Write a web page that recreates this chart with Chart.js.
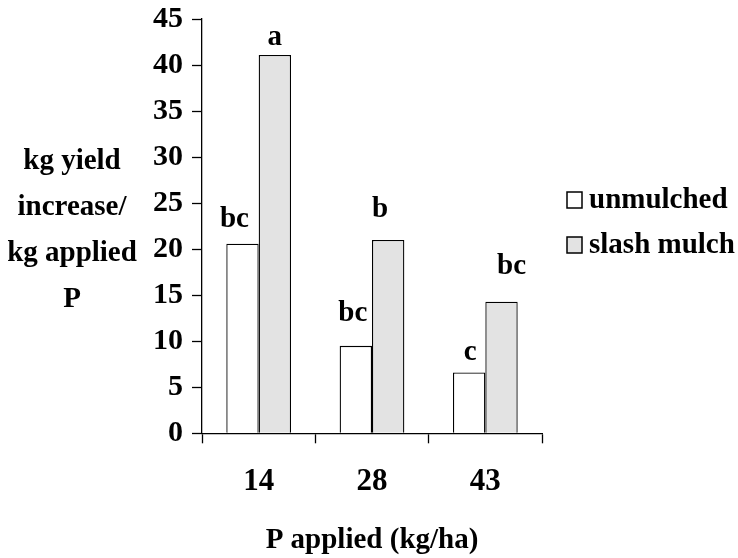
<!DOCTYPE html>
<html>
<head>
<meta charset="utf-8">
<script src="https://cdn.jsdelivr.net/npm/chart.js@4/dist/chart.umd.min.js"></script>
<style>
  html, body { margin: 0; padding: 0; background: #fff; }
  #wrap { width: 738px; height: 558px; }
</style>
</head>
<body>
<div id="wrap"><canvas id="chart" width="738" height="558"></canvas></div>
<script>
// ===============================
// DATA
// ===============================
const categories = ['14', '28', '43'];
const unmulched = [20.6, 9.5, 6.6];
const slashMulch = [41.1, 21.0, 14.3];
const unmulchedLetters = ['bc', 'bc', 'c'];
const slashLetters = ['a', 'b', 'bc'];
const yTicks = [0, 5, 10, 15, 20, 25, 30, 35, 40, 45];
const yTitleLines = ['kg yield', 'increase/', 'kg applied', 'P'];
const xTitle = 'P applied (kg/ha)';

// letter placement relative to bar top: [dx, gap]
const unmulchedLetterOffsets = [[-8, 17], [-3, 25], [1, 13]];
const slashLetterOffsets = [[0, 10], [-8, 23], [10, 28]];

const FONT = "'Liberation Serif', 'Times New Roman', serif";
const TEXT_FONT = { family: FONT, size: 29, weight: 'bold' };

// ===============================
// PLUGINS
// ===============================
const lettersPlugin = {
  id: 'letters',
  afterDatasetsDraw(chart) {
    const ctx = chart.ctx;
    ctx.save();
    ctx.font = `bold 29px ${FONT}`;
    ctx.fillStyle = '#000';
    ctx.textAlign = 'center';
    ctx.textBaseline = 'alphabetic';
    chart.data.datasets.forEach((ds, i) => {
      const meta = chart.getDatasetMeta(i);
      meta.data.forEach((bar, j) => {
        const [dx, gap] = ds.letterOffsets[j];
        ctx.fillText(ds.letters[j], bar.x + dx, bar.y - gap);
      });
    });
    ctx.restore();
  }
};

const sideTextPlugin = {
  id: 'sideText',
  afterDraw(chart) {
    const ctx = chart.ctx;
    ctx.save();
    ctx.font = `bold 29px ${FONT}`;
    ctx.fillStyle = '#000';
    ctx.textBaseline = 'alphabetic';

    // y axis title, horizontal lines
    ctx.textAlign = 'center';
    yTitleLines.forEach((line, i) => {
      ctx.fillText(line, 72, 169 + i * 46);
    });

    // legend
    ctx.textAlign = 'left';
    chart.data.datasets.forEach((ds, i) => {
      const y = 192 + i * 45;
      ctx.fillStyle = ds.backgroundColor;
      ctx.fillRect(567, y, 15, 16);
      ctx.strokeStyle = '#000';
      ctx.lineWidth = 1.5;
      ctx.strokeRect(567, y, 15, 16);
      ctx.fillStyle = '#000';
      ctx.fillText(ds.label, 589, y + 16);
    });
    ctx.restore();
  }
};

// ===============================
// CHART
// ===============================
new Chart(document.getElementById('chart'), {
  type: 'bar',
  data: {
    labels: categories,
    datasets: [
      {
        label: 'unmulched',
        data: unmulched,
        letters: unmulchedLetters,
        letterOffsets: unmulchedLetterOffsets,
        backgroundColor: '#ffffff',
        borderColor: '#000000',
        borderWidth: 1.3
      },
      {
        label: 'slash mulch',
        data: slashMulch,
        letters: slashLetters,
        letterOffsets: slashLetterOffsets,
        backgroundColor: '#e3e3e3',
        borderColor: '#000000',
        borderWidth: 1.3
      }
    ]
  },
  options: {
    responsive: false,
    animation: false,
    events: [],
    layout: { padding: { top: 19, right: 196, bottom: 0, left: 0 } },
    datasets: { bar: { categoryPercentage: 0.571, barPercentage: 1 } },
    plugins: {
      legend: { display: false },
      tooltip: { enabled: false }
    },
    scales: {
      x: {
        grid: {
          offset: true,
          drawOnChartArea: false,
          tickLength: 10,
          tickColor: '#000',
          tickWidth: 1.3
        },
        border: { color: '#000', width: 1.3 },
        ticks: { color: '#000', font: { family: FONT, size: 31, weight: 'bold' }, padding: 20 },
        title: {
          display: true,
          text: xTitle,
          color: '#000',
          font: TEXT_FONT,
          padding: { top: 0, bottom: 0 }
        },
        afterFit(scale) {
          scale.height = 124.7;
          scale.paddingLeft = 0;
          scale.paddingRight = 0;
        }
      },
      y: {
        min: 0,
        max: 45,
        afterBuildTicks(scale) { scale.ticks = yTicks.map(v => ({ value: v })); },
        grid: {
          drawOnChartArea: false,
          tickLength: 10,
          tickColor: '#000',
          tickWidth: 1.3
        },
        border: { color: '#000', width: 1.3 },
        ticks: { color: '#000', font: { family: FONT, size: 30, weight: 'bold' }, padding: 9 },
        afterFit(scale) {
          scale.width = 202;
          scale.paddingTop = 0;
          scale.paddingBottom = 0;
        }
      }
    }
  },
  plugins: [lettersPlugin, sideTextPlugin]
});
</script>
</body>
</html>
